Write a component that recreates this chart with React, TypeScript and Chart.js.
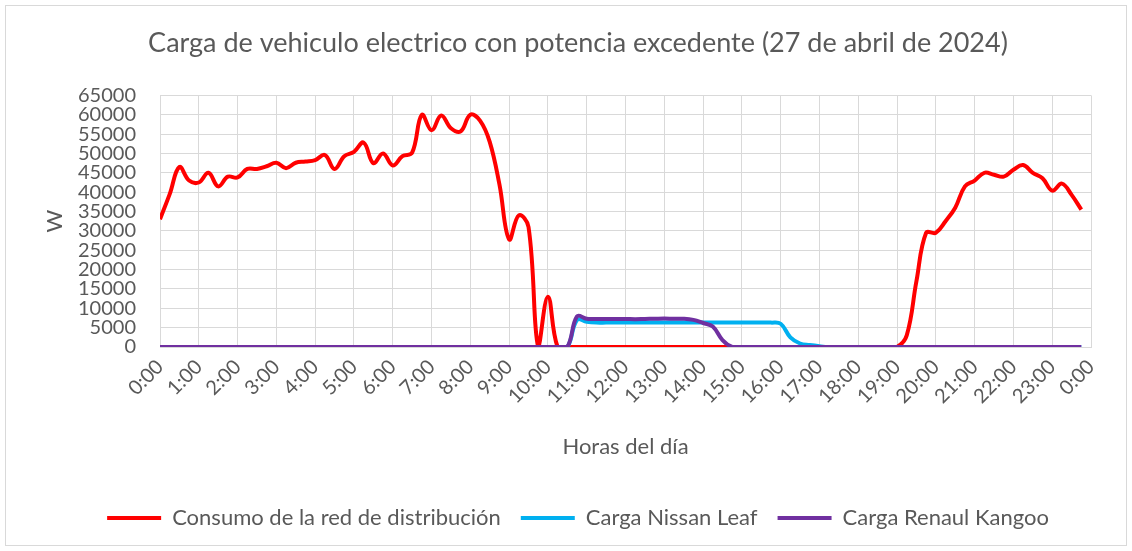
import React, { useEffect, useRef } from 'react';
import { Chart, registerables } from 'chart.js';

Chart.register(...registerables);

// 15-minute time slots of the day
const timeSlots: string[] = [
  '0:00', '0:15', '0:30', '0:45', '1:00', '1:15', '1:30', '1:45',
  '2:00', '2:15', '2:30', '2:45', '3:00', '3:15', '3:30', '3:45',
  '4:00', '4:15', '4:30', '4:45', '5:00', '5:15', '5:30', '5:45',
  '6:00', '6:15', '6:30', '6:45', '7:00', '7:15', '7:30', '7:45',
  '8:00', '8:15', '8:30', '8:45', '9:00', '9:15', '9:30', '9:45',
  '10:00', '10:15', '10:30', '10:45', '11:00', '11:15', '11:30', '11:45',
  '12:00', '12:15', '12:30', '12:45', '13:00', '13:15', '13:30', '13:45',
  '14:00', '14:15', '14:30', '14:45', '15:00', '15:15', '15:30', '15:45',
  '16:00', '16:15', '16:30', '16:45', '17:00', '17:15', '17:30', '17:45',
  '18:00', '18:15', '18:30', '18:45', '19:00', '19:15', '19:30', '19:45',
  '20:00', '20:15', '20:30', '20:45', '21:00', '21:15', '21:30', '21:45',
  '22:00', '22:15', '22:30', '22:45', '23:00', '23:15', '23:30', '23:45',
];

const gridConsumption: number[] = [
  33000, 39500, 46500, 43000, 42500, 45000, 41500, 44000,
  43800, 46000, 46000, 46700, 47600, 46200, 47600, 47900,
  48300, 49600, 46000, 49300, 50400, 52800, 47500, 50000,
  46900, 49300, 50200, 60000, 56000, 59800, 56500, 55700,
  60000, 58500, 53000, 42000, 27800, 34000, 31000, 0,
  13000, 0, 0, 0, 0, 0, 0, 0,
  0, 0, 0, 0, 0, 0, 0, 0,
  0, 0, 0, 0, 0, 0, 0, 0,
  0, 0, 0, 0, 0, 0, 0, 0,
  0, 0, 0, 0, 0, 3000, 17000, 29500,
  29500, 32500, 36000, 41500, 43000, 45000, 44500, 44000,
  45800, 47000, 45000, 43600, 40400, 42200, 39300, 35500,
];

const nissanLeaf: number[] = [
  0, 0, 0, 0, 0, 0, 0, 0,
  0, 0, 0, 0, 0, 0, 0, 0,
  0, 0, 0, 0, 0, 0, 0, 0,
  0, 0, 0, 0, 0, 0, 0, 0,
  0, 0, 0, 0, 0, 0, 0, 0,
  0, 0, 0, 7000, 6500, 6300, 6300, 6300,
  6300, 6300, 6300, 6300, 6300, 6300, 6300, 6300,
  6300, 6300, 6300, 6300, 6300, 6300, 6300, 6300,
  6000, 2500, 900, 500, 200, 0, 0, 0,
  0, 0, 0, 0, 0, 0, 0, 0,
  0, 0, 0, 0, 0, 0, 0, 0,
  0, 0, 0, 0, 0, 0, 0, 0,
];

const renaultKangoo: number[] = [
  0, 0, 0, 0, 0, 0, 0, 0,
  0, 0, 0, 0, 0, 0, 0, 0,
  0, 0, 0, 0, 0, 0, 0, 0,
  0, 0, 0, 0, 0, 0, 0, 0,
  0, 0, 0, 0, 0, 0, 0, 0,
  0, 0, 0, 7900, 7300, 7250, 7250, 7250,
  7250, 7200, 7250, 7300, 7350, 7300, 7300, 7000,
  6200, 5300, 1800, 0, 0, 0, 0, 0,
  0, 0, 0, 0, 0, 0, 0, 0,
  0, 0, 0, 0, 0, 0, 0, 0,
  0, 0, 0, 0, 0, 0, 0, 0,
  0, 0, 0, 0, 0, 0, 0, 0,
];

const seriesNames = ['Consumo de la red de distribución', 'Carga Nissan Leaf', 'Carga Renaul Kangoo'];
const seriesColors = ['#FF0000', '#00B0F0', '#7030A0'];

const chartTitle = 'Carga de vehiculo electrico con potencia excedente (27 de abril de 2024)';
const xTitle = 'Horas del día';
const yTitle = 'W';

const yMin = 0;
const yMax = 65000;
const yStep = 5000;
const xMinHour = 0;
const xMaxHour = 24;

const FONT = 'Lato, "Open Sans", sans-serif';
const TEXT = '#595959';
const GRID = '#D9D9D9';

function toHours(t: string): number {
  const [h, m] = t.split(':').map(Number);
  return h + m / 60;
}

export default function App() {
  const ref = useRef<HTMLCanvasElement>(null);

  useEffect(() => {
    document.body.style.margin = '0';
    const canvas = ref.current;
    if (!canvas) return;

    const mk = (vals: number[]) => vals.map((v, i) => ({ x: toHours(timeSlots[i]), y: v }));

    const framePlugin = {
      id: 'frame',
      beforeDraw(chart: any) {
        const c = chart.ctx;
        c.save();
        c.fillStyle = '#ffffff';
        c.fillRect(0, 0, chart.width, chart.height);
        c.strokeStyle = GRID;
        c.lineWidth = 1;
        c.strokeRect(5.5, 5.5, chart.width - 11, chart.height - 11);
        c.restore();
      },
    };

    const allSeries = [gridConsumption, nissanLeaf, renaultKangoo];
    const orders = [3, 2, 1];

    const chart = new Chart(canvas, {
      type: 'line',
      data: {
        datasets: allSeries.map((s, i) => ({
          label: seriesNames[i],
          data: mk(s),
          borderColor: seriesColors[i],
          backgroundColor: seriesColors[i],
          borderWidth: 4,
          pointRadius: 0,
          pointHoverRadius: 0,
          tension: 0.4,
          fill: false,
          order: orders[i],
        })),
      },
      options: {
        animation: false,
        responsive: false,
        devicePixelRatio: 1,
        layout: { padding: { left: 65, right: 41, top: 0, bottom: 12 } },
        plugins: {
          title: {
            display: true,
            text: chartTitle,
            color: TEXT,
            font: { family: FONT, size: 27, weight: 'normal' },
            padding: { top: 27, bottom: 36 },
          },
          legend: {
            position: 'bottom',
            labels: {
              usePointStyle: true,
              pointStyle: 'line',
              pointStyleWidth: 54,
              color: TEXT,
              font: { family: FONT, size: 22 },
              padding: 20,
              sort: (a: any, b: any) => a.datasetIndex - b.datasetIndex,
            },
          },
          tooltip: { enabled: false },
        },
        scales: {
          x: {
            type: 'linear',
            min: xMinHour,
            max: xMaxHour,
            afterFit: (scale: any) => { scale.height = 140; },
            ticks: {
              stepSize: 1,
              autoSkip: false,
              maxRotation: 45,
              minRotation: 45,
              color: TEXT,
              font: { family: FONT, size: 20 },
              padding: 8,
              callback: (v: any) => `${Number(v) % 24}:00`,
            },
            grid: { color: GRID, drawTicks: false },
            border: { color: GRID },
            title: {
              display: true,
              text: xTitle,
              color: TEXT,
              font: { family: FONT, size: 22 },
              padding: { top: 0, bottom: 27 },
            },
          },
          y: {
            min: yMin,
            max: yMax,
            afterFit: (scale: any) => { scale.width = 95; },
            ticks: {
              stepSize: yStep,
              autoSkip: false,
              color: TEXT,
              font: { family: FONT, size: 20 },
              padding: 24,
              callback: (v: any) => String(v),
            },
            grid: { color: GRID, drawTicks: false },
            border: { display: false },
            title: {
              display: true,
              text: yTitle,
              color: TEXT,
              font: { family: FONT, size: 22 },
              padding: { top: -23, bottom: 0 },
            },
          },
        },
      },
      plugins: [framePlugin],
    });

    return () => chart.destroy();
  }, []);

  return (
    <div style={{ position: 'fixed', left: 0, top: 0, width: 1132, height: 551, background: '#fff' }}>
      <canvas ref={ref} width={1132} height={551} style={{ display: 'block' }} />
    </div>
  );
}
